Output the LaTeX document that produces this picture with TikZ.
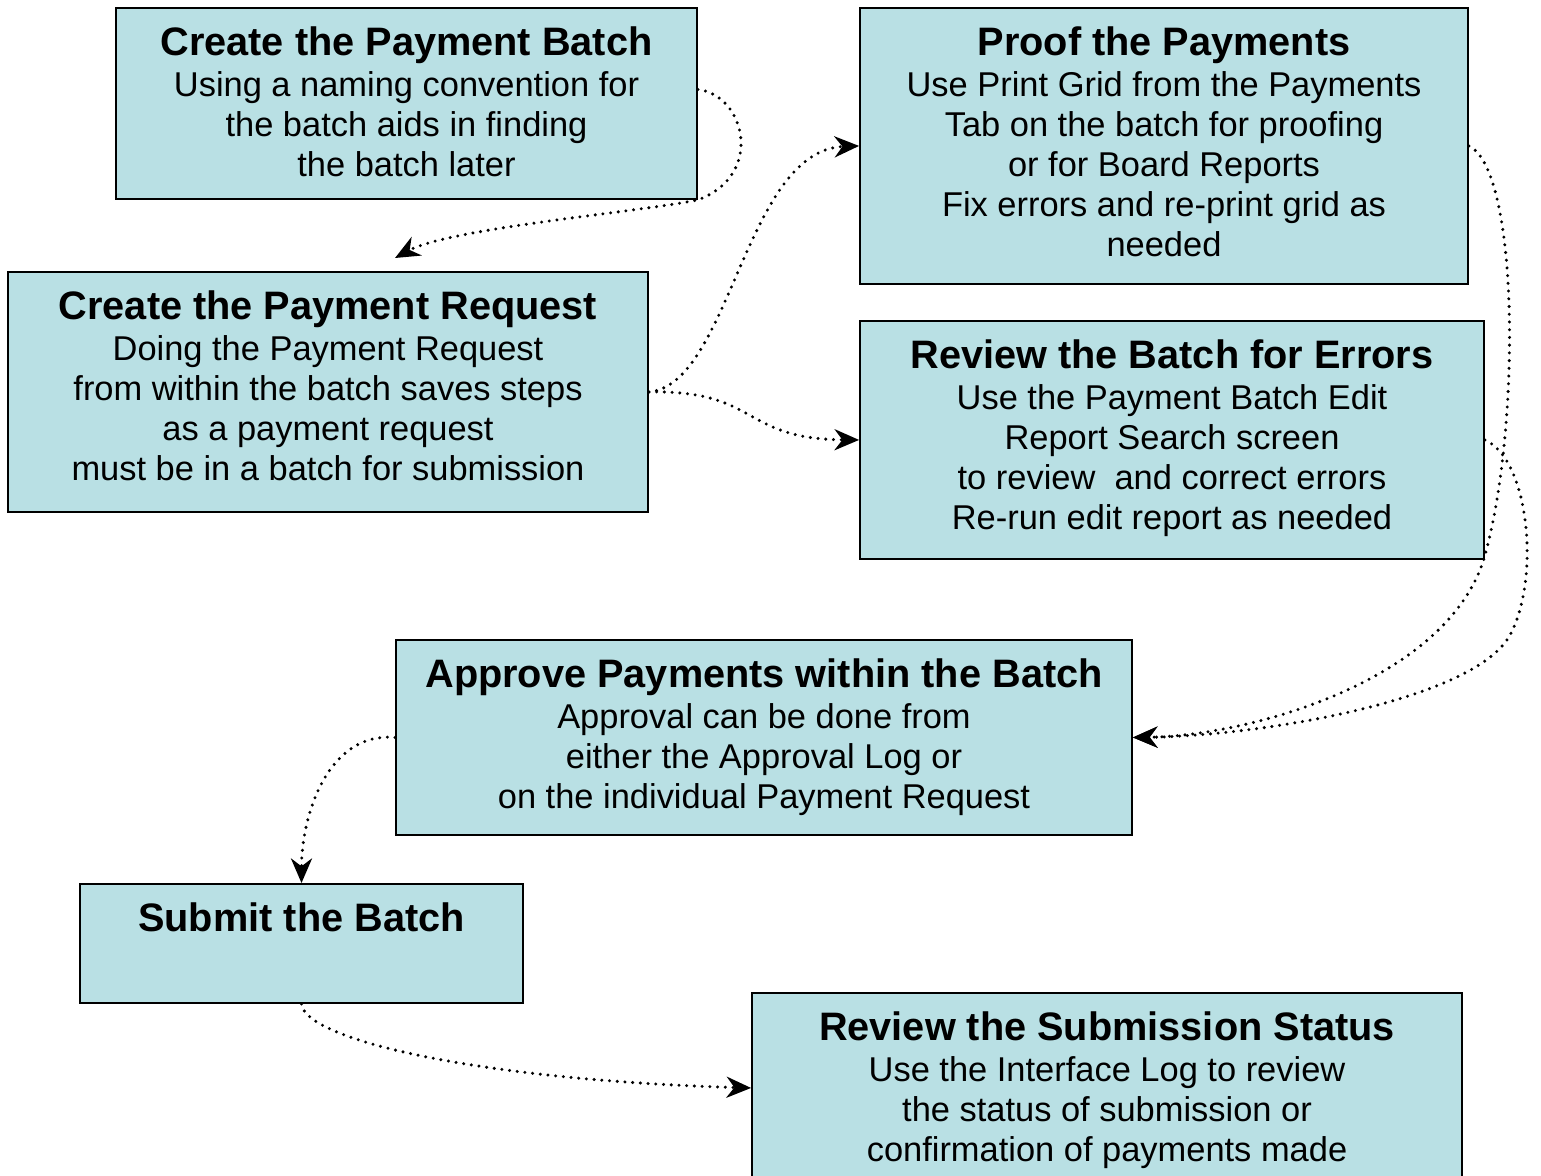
\documentclass[tikz,border=0pt]{standalone}
\usepackage{fontspec}
\setmainfont{Liberation Sans}
\usetikzlibrary{arrows.meta,positioning,calc}
\definecolor{boxblue}{RGB}{185,224,228}

\tikzset{
  every box/.style={draw=black, line width=1.1pt, fill=boxblue, anchor=north, inner sep=0pt},
  box text/.style={anchor=north, align=center, inner sep=0pt, font=\fontsize{19.6}{22.8}\selectfont},
  flow/.style={->, line width=1.9pt, line cap=round, dash pattern=on 0pt off 4.4pt}
}
\newcommand{\steptitle}[1]{{\fontsize{22.6}{22.8}\selectfont\bfseries #1}}

\begin{document}
\begin{tikzpicture}[x=0.02cm, y=-0.02cm, >={Stealth[length=14pt,width=12pt,inset=4.5pt]}]

\useasboundingbox (0,0) rectangle (1541,1176);

% the boxes
\foreach \n/\x/\y/\w/\h in {batch/406.5/7/11.62/3.82, request/328/271/12.8/4.8,
    proof/1164/7/12.16/5.52, review/1172/320/12.48/4.76, approve/764/639/14.72/3.9,
    submit/301.5/883/8.86/2.38, status/1107/992/14.2/3.8}
  \node [every box/.try, minimum width=\w cm, minimum height=\h cm] (\n) at (\x,\y) {};

% texts in the boxes
\node [box text] (batch-text) at ($(batch.north)+(0,19)$)
  {\steptitle{Create the Payment Batch}\\[0.6pt] Using a naming convention for\\
   the batch aids in finding\\ the batch later};
\node [box text] (request-text) at ($(request.north)+(0,19)$)
  {\steptitle{Create the Payment Request}\\[0.6pt] Doing the Payment Request\\
   from within the batch saves steps\\ as a payment request\\
   must be in a batch for submission};
\node [box text] (proof-text) at ($(proof.north)+(0,19)$)
  {\steptitle{Proof the Payments}\\[0.6pt] Use Print Grid from the Payments\\
   Tab on the batch for proofing\\ or for Board Reports\\
   Fix errors and re-print grid as\\ needed};
\node [box text] (review-text) at ($(review.north)+(0,19)$)
  {\steptitle{Review the Batch for Errors}\\[0.6pt] Use the Payment Batch Edit\\
   Report Search screen\\ to review~ and correct errors\\
   Re-run edit report as needed};
\node [box text] (approve-text) at ($(approve.north)+(0,19)$)
  {\steptitle{Approve Payments within the Batch}\\[0.6pt] Approval can be done from\\
   either the Approval Log or\\ on the individual Payment Request};
\node [box text] (submit-text) at ($(submit.north)+(0,19)$)
  {\steptitle{Submit the Batch}};
\node [box text] (status-text) at ($(status.north)+(0,19)$)
  {\steptitle{Review the Submission Status}\\[0.6pt] Use the Interface Log to review\\
   the status of submission or\\ confirmation of payments made};

% connectors
\draw [flow] ($(batch.east)+(0,-14)$) .. controls (745,95) and (765,175) .. (batch.south east)
  .. controls (640,212) and (450,228) .. ($(request.north)+(67,-13)$);
\draw [flow] (request.east) .. controls (730,385) and (745,150) .. (proof.west);
\draw [flow] (request.east) .. controls (760,390) and (740,439) .. (review.west);
\draw [flow] (proof.east) .. controls (1520,170) and (1520,430) .. (1485,555)
  .. controls (1450,680) and (1250,736) .. (approve.east);
\draw [flow] (review.east) .. controls (1530,460) and (1540,580) .. (1510,635)
  .. controls (1475,700) and (1260,736) .. (approve.east);
\draw [flow] (approve.west) to [out=175, in=90] (submit.north);
\draw [flow] (submit.south) .. controls (305,1040) and (480,1080) .. (status.west);

\end{tikzpicture}
\end{document}
